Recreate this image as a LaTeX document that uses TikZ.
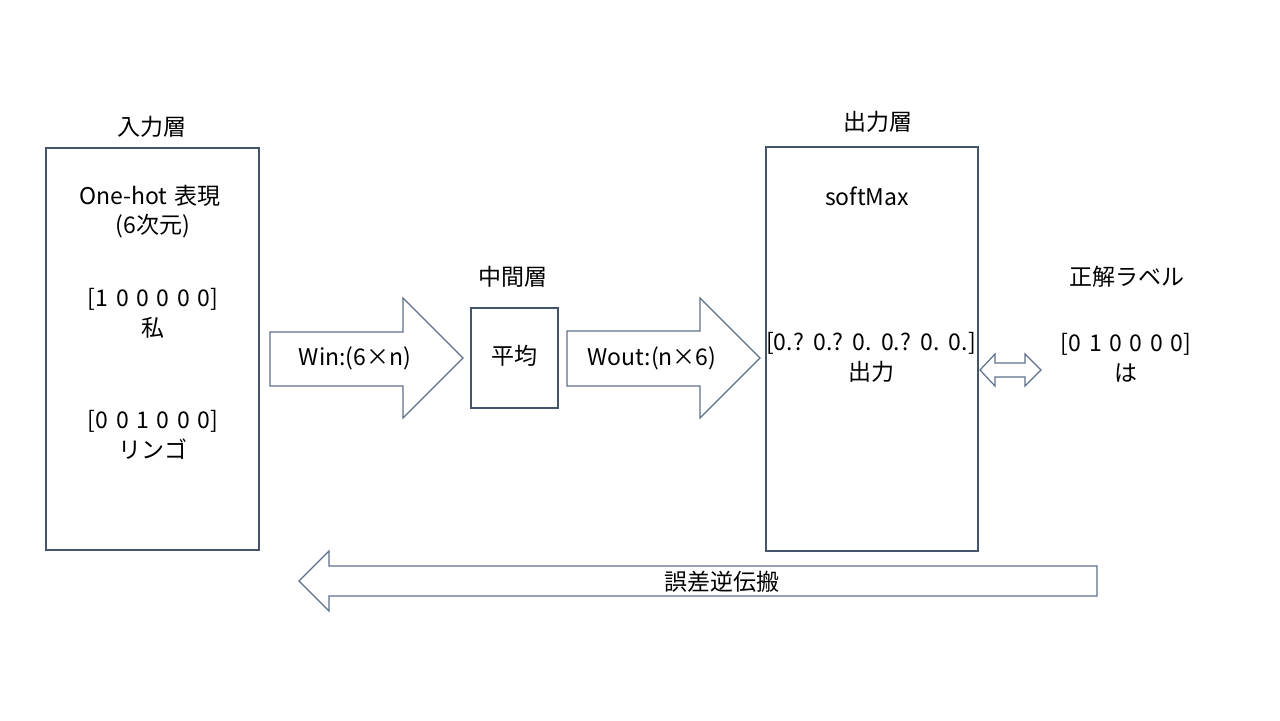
\documentclass[tikz,border=0pt]{standalone}
\usepackage{fontspec}
\setmainfont{Noto Sans CJK JP}
\usepackage{tikz}
\definecolor{boxline}{HTML}{44546A}
\definecolor{arrline}{HTML}{5E6F8C}
\newcommand{\labelfont}{\fontsize{11.5}{15}\selectfont\spaceskip=0.33em\relax}

\begin{document}
\begin{tikzpicture}[x=0.5pt,y=-0.5pt]
            \tikzstyle{layer}=[rectangle,draw=boxline,line width=0.7pt,fill=white,inner sep=0pt]
            \tikzstyle{txt}=[align=center,font=\labelfont,inner sep=0pt]
            \tikzstyle{blockarrow}=[draw=arrline,line width=0.6pt,fill=white,line join=miter]
                    \useasboundingbox (0,0) rectangle (1280,720);
                    % layers
                    \node[layer,minimum width=106.5pt,minimum height=201pt] (L-in) at (152.5,349){};
                    \node[layer,minimum width=43.5pt,minimum height=50pt] (L-mid) at (514.5,358){};
                    \node[layer,minimum width=106pt,minimum height=202pt] (L-out) at (872,349){};
                    \node[txt] (T-in) at (152,127){入力層};
                    \node[txt] (T-mid) at (513,277){中間層};
                    \node[txt] (T-out) at (878,122){出力層};
                    \node[txt] (T-ans) at (1127,277){正解ラベル};
                    % texts in boxes
                    \node[txt] (onehot) at (150,196){One-hot 表現};
                    \node[txt] (dim) at (153,226){(6次元)};
                    \node[txt] (w-0) at (153,313){[1 0 0 0 0 0]\\私};
                    \node[txt] (w-1) at (153,435){[0 0 1 0 0 0]\\リンゴ};
                    \node[txt] (avg) at (514,356){平均};
                    \node[txt] (soft) at (867,196){softMax};
                    \node[txt] (res) at (871,357){[0.? 0.? 0. 0.? 0. 0.]\\出力};
                    \node[txt] (ans) at (1126,358){[0 1 0 0 0 0]\\は};
                    % block arrows
                    \draw[blockarrow] (270,332) -- (403,332) -- (403,298) -- (463,358) -- (403,418) -- (403,386) -- (270,386) -- cycle;
                    \draw[blockarrow] (567,331) -- (700,331) -- (700,298) -- (760,358) -- (700,418) -- (700,386) -- (567,386) -- cycle;
                    \draw[blockarrow] (980,370) -- (995,354) -- (995,363) -- (1025,363) -- (1025,354) -- (1041,370) -- (1025,386) -- (1025,377) -- (995,377) -- (995,386) -- cycle;
                    \draw[blockarrow] (1097,566) -- (329,566) -- (329,551) -- (299,581) -- (329,611) -- (329,596) -- (1097,596) -- cycle;
                    \node[txt] (win) at (355,358){Win:(6×n)};
                    \node[txt] (wout) at (652,358){Wout:(n×6)};
                    \node[txt] (back) at (722,582){誤差逆伝搬};
        \end{tikzpicture}
\end{document}
